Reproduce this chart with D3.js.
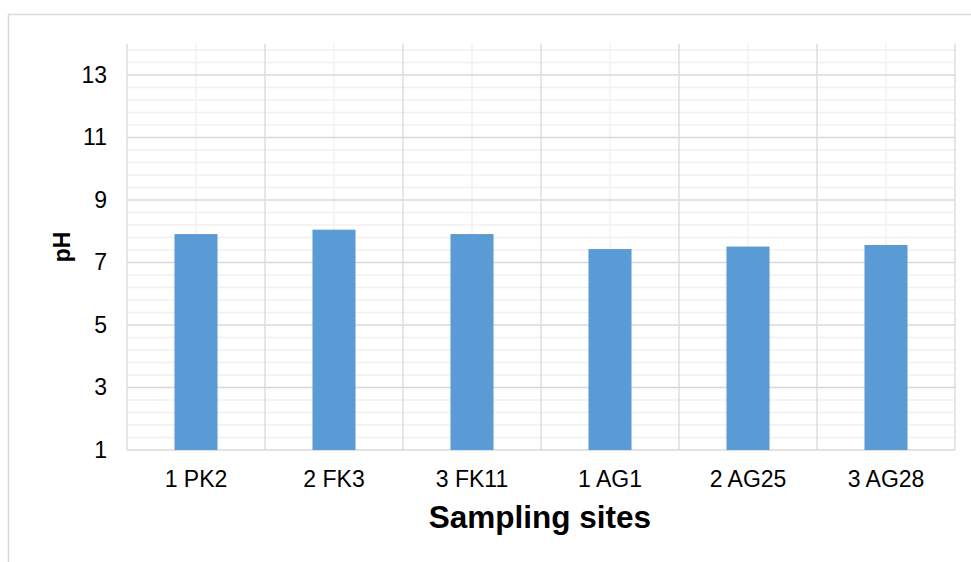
<!DOCTYPE html>
<html>
<head>
<meta charset="utf-8">
<script src="https://cdn.jsdelivr.net/npm/d3@7"></script>
<style>
  html, body { margin: 0; padding: 0; background: #fff; }
  svg { display: block; font-family: Arial, "Liberation Sans", sans-serif; }
</style>
</head>
<body>
<svg id="chart" width="971" height="562"></svg>
<script>
// pH measured at each sampling site
const sites = ["1 PK2", "2 FK3", "3 FK11", "1 AG1", "2 AG25", "3 AG28"];
const phValues = [7.91, 8.05, 7.91, 7.43, 7.51, 7.56];
const yTicks = [1, 3, 5, 7, 9, 11, 13];
const yMinorStep = 0.4;
const yDomain = [1, 14];

const svg = d3.select("#chart");
const W = 971, H = 562;
const margin = { left: 127, right: W - 955, top: 43.75, bottom: H - 450 };
const plotW = W - margin.left - margin.right;
const plotH = H - margin.top - margin.bottom;

// outer chart frame
svg.append("rect")
  .attr("x", 8.5).attr("y", 14.5)
  .attr("width", 1000).attr("height", 600)
  .attr("fill", "none")
  .attr("stroke", "#d9d9d9")
  .attr("stroke-width", 1.5);

const g = svg.append("g").attr("transform", `translate(${margin.left},${margin.top})`);

const x = d3.scaleBand().domain(sites).range([0, plotW]).padding(0);
const y = d3.scaleLinear().domain(yDomain).range([plotH, 0]);

// minor horizontal gridlines
const minorY = d3.range(yDomain[0], yDomain[1] + 1e-9, yMinorStep)
  .filter(v => !yTicks.some(t => Math.abs(t - v) < 1e-6));
g.append("g").selectAll("line").data(minorY).join("line")
  .attr("x1", 0).attr("x2", plotW)
  .attr("y1", d => y(d)).attr("y2", d => y(d))
  .attr("stroke", "#f0f0f0").attr("stroke-width", 1.3);

// minor vertical gridlines at category centres
g.append("g").selectAll("line").data(sites).join("line")
  .attr("x1", d => x(d) + x.bandwidth() / 2).attr("x2", d => x(d) + x.bandwidth() / 2)
  .attr("y1", 0).attr("y2", plotH)
  .attr("stroke", "#f0f0f0").attr("stroke-width", 1.3);

// major horizontal gridlines
g.append("g").selectAll("line").data(yTicks).join("line")
  .attr("x1", 0).attr("x2", plotW)
  .attr("y1", d => y(d)).attr("y2", d => y(d))
  .attr("stroke", "#d9d9d9").attr("stroke-width", 1.3);

// major vertical gridlines at category boundaries
const bounds = sites.map(s => x(s)).concat([plotW]);
g.append("g").selectAll("line").data(bounds).join("line")
  .attr("x1", d => d).attr("x2", d => d)
  .attr("y1", 0).attr("y2", plotH)
  .attr("stroke", "#d9d9d9").attr("stroke-width", 1.3);

// bars
const barW = x.bandwidth() * 0.312;
g.append("g").selectAll("rect").data(phValues).join("rect")
  .attr("x", (d, i) => x(sites[i]) + (x.bandwidth() - barW) / 2)
  .attr("width", barW)
  .attr("y", d => y(d))
  .attr("height", d => y(yDomain[0]) - y(d))
  .attr("fill", "#5b9bd5");

// y axis labels
const yAxis = d3.axisLeft(y).tickValues(yTicks).tickSize(0).tickPadding(20).tickFormat(d3.format("d"));
g.append("g").call(yAxis)
  .call(a => a.select(".domain").remove())
  .selectAll("text")
  .attr("font-size", 23).attr("fill", "#000")
  .attr("font-family", "Arial, 'Liberation Sans', sans-serif");

// x axis labels
const xAxis = d3.axisBottom(x).tickSize(0).tickPadding(20.5);
g.append("g").attr("transform", `translate(0,${plotH})`).call(xAxis)
  .call(a => a.select(".domain").remove())
  .selectAll("text")
  .attr("font-size", 23).attr("fill", "#000")
  .attr("font-family", "Arial, 'Liberation Sans', sans-serif");

// axis titles
svg.append("text")
  .attr("x", margin.left + plotW / 2 - 1).attr("y", 528)
  .attr("text-anchor", "middle")
  .attr("font-size", 31.5).attr("font-weight", "bold")
  .text("Sampling sites");

svg.append("text")
  .attr("transform", `translate(70,${margin.top + plotH / 2}) rotate(-90)`)
  .attr("text-anchor", "middle")
  .attr("font-size", 23).attr("font-weight", "bold")
  .text("pH");
</script>
</body>
</html>
